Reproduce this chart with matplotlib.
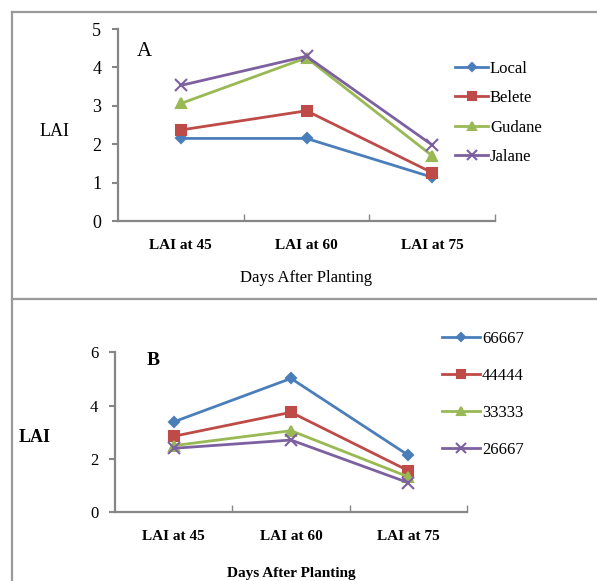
import matplotlib
matplotlib.use("Agg")
import matplotlib.pyplot as plt
from matplotlib.lines import Line2D

plt.rcParams['font.family'] = ['Liberation Serif', 'DejaVu Serif']

# Data
days = ["LAI at 45", "LAI at 60", "LAI at 75"]

varieties = ["Local", "Belete", "Gudane", "Jalane"]
local = [2.15, 2.15, 1.14]
belete = [2.37, 2.87, 1.26]
gudane = [3.06, 4.25, 1.70]
jalane = [3.53, 4.29, 1.98]

densities = ["66667", "44444", "33333", "26667"]
d66667 = [3.39, 5.02, 2.14]
d44444 = [2.85, 3.75, 1.56]
d33333 = [2.50, 3.06, 1.33]
d26667 = [2.40, 2.71, 1.11]

colors = ["#4A7EBB", "#BE4B48", "#98B954", "#7D60A0"]
markers = ["D", "s", "^", "x"]
msizes = [5, 7, 7, 9]

W, H = 597, 581
fig = plt.figure(figsize=(W / 100, H / 100), dpi=100)


def fx(px):
    return px / W


def fy(py):
    return 1 - py / H


# panel borders
border = dict(color="#9a9a9a", lw=1.6, transform=fig.transFigure)
fig.add_artist(Line2D([fx(11.5), fx(11.5)], [fy(11.5), 0], **border))
fig.add_artist(Line2D([fx(11.5), 1], [fy(11.5), fy(11.5)], **border))
fig.add_artist(Line2D([fx(11.5), 1], [fy(299), fy(299)], **border))


def style_axes(ax, ymax, ystep):
    ax.set_xlim(-0.5, 2.5)
    ax.set_ylim(0, ymax)
    ax.set_yticks(range(0, ymax + 1, ystep))
    ax.set_xticks(range(3))
    ax.set_xticklabels(days, fontweight="bold", fontsize=11)
    ax.set_xticks([0.5, 1.5, 2.5], minor=True)
    ax.tick_params(axis="x", which="major", length=0, pad=13)
    ax.tick_params(axis="x", which="minor", length=5, direction="in",
                   color="#868686", width=1)
    ax.tick_params(axis="y", length=4, direction="out", color="#868686",
                   width=1.5, pad=8, labelsize=13)
    for s in ["top", "right"]:
        ax.spines[s].set_visible(False)
    for s in ["left", "bottom"]:
        ax.spines[s].set_color("#868686")
        ax.spines[s].set_linewidth(1.6)
    ax.patch.set_alpha(0)


# Panel A
axA = fig.add_axes([fx(118), fy(221), fx(495) - fx(118), fy(29) - fy(221)])
for vals, name, c, m, ms in zip([local, belete, gudane, jalane], varieties,
                                 colors, markers, msizes):
    axA.plot(range(3), vals, color=c, marker=m, ms=ms, mew=1.5, lw=2,
             label=name, clip_on=False)
style_axes(axA, 5, 1)
axA.text(0.05, 0.885, "A", transform=axA.transAxes, fontsize=15, va="center")
fig.text(fx(55), fy(132), "LAI", fontsize=13, ha="center", va="center")
fig.text(fx(306), fy(278), "Days After Planting", fontsize=12,
         ha="center", va="center")
fig.legend(*axA.get_legend_handles_labels(), loc="upper left",
           bbox_to_anchor=(fx(455), fy(61)), frameon=False, fontsize=12,
           handlelength=2.0, handletextpad=0.1, labelspacing=0.8,
           markerscale=0.75, borderaxespad=0, borderpad=0)

# Panel B
axB = fig.add_axes([fx(115), fy(512.3), fx(467) - fx(115), fy(352.3) - fy(512.3)])
for vals, name, c, m, ms in zip([d66667, d44444, d33333, d26667], densities,
                                 colors, markers, msizes):
    axB.plot(range(3), vals, color=c, marker=m, ms=ms, mew=1.5, lw=2,
             label=name, clip_on=False)
style_axes(axB, 6, 2)
axB.tick_params(axis="y", labelsize=12)
axB.text(0.09, 0.95, "B", transform=axB.transAxes, fontsize=14,
         fontweight="bold", va="center")
fig.text(fx(35), fy(438), "LAI", fontsize=13, fontweight="bold",
         ha="center", va="center")
fig.text(fx(291), fy(574), "Days After Planting", fontsize=11,
         fontweight="bold", ha="center", va="center")
fig.legend(*axB.get_legend_handles_labels(), loc="upper left",
           bbox_to_anchor=(fx(442), fy(331)), frameon=False, fontsize=12,
           handlelength=2.3, handletextpad=0.1, labelspacing=1.26,
           markerscale=0.75, borderaxespad=0, borderpad=0)

fig.savefig("out.png", dpi=100)
